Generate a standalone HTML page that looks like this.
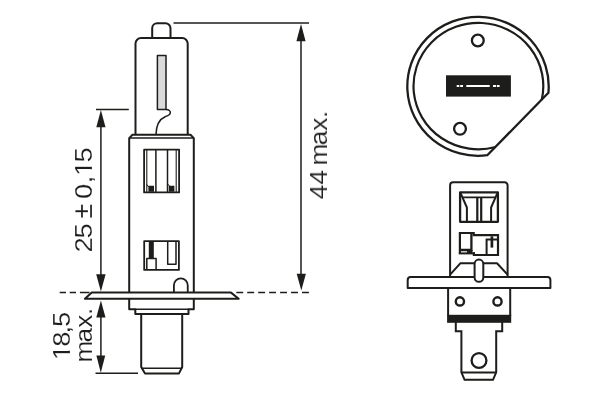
<!DOCTYPE html>
<html>
<head>
<meta charset="utf-8">
<title>H1 bulb dimensions</title>
<style>
html,body{margin:0;padding:0;background:#fff;}
body{width:600px;height:400px;overflow:hidden;}
svg{display:block;}
text{font-family:"Liberation Sans",sans-serif;fill:#1d1d1b;}
</style>
</head>
<body>
<svg width="600" height="400" viewBox="0 0 600 400">
<rect width="600" height="400" fill="#fff"/>
<g fill="none" stroke="#1d1d1b" stroke-width="2" stroke-linejoin="round" stroke-linecap="butt">

<!-- ===== LEFT: side view ===== -->
<!-- glass tip -->
<path d="M152.200 38.100V28.300a5 5 0 0 1 5-5h8.300a5 5 0 0 1 5 5V38.100"/>
<!-- glass body -->
<path d="M135.500 134.500V43.600a5.500 5.500 0 0 1 5.500-5.500h41.200a5.500 5.500 0 0 1 5.500 5.500V134.500"/>
<!-- filament -->
<rect x="157.400" y="55.600" width="8.600" height="53.900" fill="#dadada" stroke-width="1.500"/>
<path d="M166 109.500C169 109.600 170.500 111 170.300 113C170 115.200 168 115.700 165.500 116.500C160.500 118.700 156.200 124 156 134.500" stroke-width="1.500"/>
<!-- base -->
<path d="M129.200 292.500V138.100l3.300-3.300h58l3.300 3.300V292.500"/>
<path d="M129.200 138.100H193.800" stroke-width="1.500"/>
<!-- window 1 -->
<rect x="144.100" y="149.700" width="35" height="42.700" stroke-width="1.800"/>
<path d="M146.800 150V192M176.200 150V192" stroke-width="1.100"/>
<path d="M155.900 150V192M167.500 150V192" stroke-width="1.500"/>
<path d="M148.400 185.800h5.600v6h-5.600zM168.800 185.800h5.600v6h-5.600z" fill="#1d1d1b" stroke="none"/>
<path d="M146.600 184.300L148.600 187M168.300 184.300L170 187" stroke-width="1"/>
<!-- window 2 -->
<rect x="144.200" y="241.100" width="34.700" height="28.800" stroke-width="1.800"/>
<rect x="148.800" y="241.100" width="5" height="17.500" fill="#1d1d1b" stroke="none"/>
<path d="M146.800 269.900V258.600H156.100V269.900" stroke-width="1.500"/>
<path d="M167.700 241.100V264.200H176V241.100" stroke-width="1.500"/>
<!-- dome -->
<path d="M173.900 292.500V285.300a6.920 6.920 0 0 1 13.840 0V292.500" stroke-width="1.800"/>
<!-- flange -->
<path d="M91.800 292.600H231L238.700 298.800H84.900Z" stroke-width="2"/>
<!-- collar -->
<path d="M129.200 298.600V309.300H135.300V314H188.500V309.300H193.800V298.600"/>
<path d="M135.300 309.300H188.500" stroke-width="1.600"/>
<!-- plug -->
<path d="M141.200 314V367L145 373.400H179L182.200 367V314"/>
<path d="M141.200 368.300H182.200" stroke-width="1.500"/>
</g>

<g fill="none" stroke="#1d1d1b" stroke-width="1.500">
<!-- dashed reference -->
<path d="M59.700 292.500H66M69.700 292.500H76M79.900 292.500H89.500"/>
<path d="M236.300 292.500H309" stroke-dasharray="6.900 4.050"/>
<!-- dim 25 -->
<path d="M96 109.500H128.800"/>
<path d="M100.900 120V280"/>
<!-- dim 44 -->
<path d="M173.500 23H309"/>
<path d="M301 35V280"/>
<!-- dim 18,5 -->
<path d="M95.500 373.300H138"/>
<path d="M100.900 310V362"/>
</g>
<g fill="#1d1d1b" stroke="none">
<path d="M100.900 110L105.500 127.200H96.300Z"/>
<path d="M100.900 291.500L105.600 274.200H96.200Z"/>
<path d="M301 24L305.600 41.200H296.400Z"/>
<path d="M301.300 290.500L305.900 273.800H296.700Z"/>
<path d="M100.900 300.600L105.500 317.400H96.300Z"/>
<path d="M100.800 372.700L105.200 355.600H96.400Z"/>
</g>

<g fill="none" stroke="#1d1d1b" stroke-width="2" stroke-linejoin="round" stroke-linecap="butt">
<!-- ===== TOP RIGHT: top view ===== -->
<path d="M548.40 92.80A70.700 69.500 0 1 0 487.30 155.20Z" stroke-linejoin="miter" stroke-width="2.300"/>
<path d="M541.74 99.89A64.900 63.200 0 1 0 495.56 147.05" stroke-width="2.200"/>
<rect x="446" y="75.300" width="64.900" height="21.300" fill="#1d1d1b" stroke="none"/>
<path d="M456.700 86.100H459.300M460.200 86.100H463M466.300 86.100H489.700M493 86.100H496M496.800 86.100H499.600" stroke="#fff" stroke-width="2"/>
<circle cx="477.800" cy="40.500" r="5.900" stroke-width="2.300"/>
<circle cx="460" cy="128.800" r="5.900" stroke-width="2.300"/>

<!-- ===== BOTTOM RIGHT: front view ===== -->
<path d="M450.100 277V185.300a3 3 0 0 1 3-3h51.500a3 3 0 0 1 3 3V277"/>
<rect x="460.100" y="192.400" width="37.800" height="29.400" stroke-width="2.300"/>
<path d="M460.500 192.800L466.900 207.500V221.500M497.500 192.800L491.100 207.500V221.500" stroke-width="2"/>
<path d="M462.800 197.400H495.200" stroke-width="1.700"/>
<path d="M477.300 197.200V221.500M481.200 197.200V221.500" stroke-width="2.200"/>
<!-- lower window parts -->
<path d="M459.900 253.400V233H473.700V235.200H498V255H473.900V252.200" stroke-width="2.200" stroke-linejoin="miter"/>
<path d="M471.400 233V250H459.900" stroke-width="2.300" stroke-linejoin="miter"/>
<rect x="467" y="250" width="5.500" height="3.400" fill="#1d1d1b" stroke="none"/>
<path d="M458.800 253.400H474.900" stroke-width="2"/>
<path d="M486.600 255V239.500H498" stroke-width="2" stroke-linejoin="miter"/>
<path d="M491.900 236.300V247.600" stroke-width="2.700"/>
<!-- shoulders -->
<path d="M450.100 274.600L460.300 263.300H475M507.600 274.600L497 263.300H483"/>
<!-- flange -->
<path d="M407.700 288V280a3 3 0 0 1 3-3H547.400a3 3 0 0 1 3 3V288Z"/>
<!-- centre pin -->
<rect x="474.600" y="259.600" width="8.700" height="22.200" rx="4.350" fill="#fff"/>
<!-- body below -->
<path d="M448.100 288V316M510.200 288V316"/>
<rect x="447.100" y="314.800" width="64.100" height="8" fill="#1d1d1b" stroke="none"/>
<circle cx="459.900" cy="301.400" r="4.100" stroke-width="2.400"/>
<circle cx="497.500" cy="301.400" r="4.100" stroke-width="2.400"/>
<!-- tab -->
<path d="M455.800 322V331.200H461.400V372.400L464.600 379.800H493L496.200 372.400V331.200H502.200V322" stroke-linejoin="miter"/>
<path d="M461.400 372.500H496.200" stroke-width="1.800"/>
<circle cx="479" cy="360.500" r="7.400" stroke-width="2.300"/>
</g>

<!-- labels -->
<g font-size="24.500" style="filter:grayscale(1)" stroke="#fff" stroke-width="0.150">
<text transform="translate(92.40 252.25) rotate(-90) scale(1.120 1)" x="-0.23 12.18">25</text>
<text transform="translate(92.40 218.50) rotate(-90) scale(0.930 1)" x="0.10" font-size="28.500">±</text>
<text transform="translate(92.40 199.20) rotate(-90) scale(1.120 1)" x="0.11 14.16 20.71 32.79">0,15</text><path transform="translate(92.40 199.20) rotate(-90) scale(1.120 1)" d="M22.09 -2.57H26.83V0.6H22.09ZM29.07 -2.57H33.63V0.6H29.07Z" fill="#fff" stroke="none"/>
<text transform="translate(327.00 199.75) rotate(-90) scale(1.070 1)" x="0.51 14.18 23.13 32.08 50.87 64.55 76.39">44 max.</text>
<text transform="translate(70.40 358.20) rotate(-90) scale(1.120 1)" x="-1.79 10.17 22.15 27.92">18,5</text><path transform="translate(70.40 358.20) rotate(-90) scale(1.120 1)" d="M-0.41 -2.57H4.33V0.6H-0.41ZM6.57 -2.57H11.13V0.6H6.57Z" fill="#fff" stroke="none"/>
<text transform="translate(92.30 361.60) rotate(-90) scale(1.070 1)" x="-0.86 17.78 31.74 43.47">max.</text>
</g>
</svg>
</body>
</html>
